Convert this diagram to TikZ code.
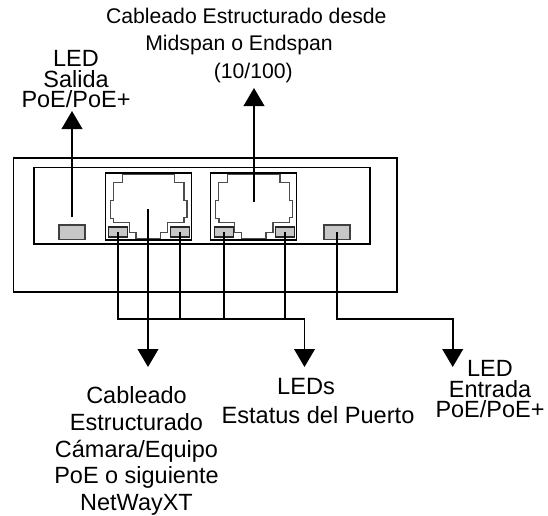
\documentclass[tikz,border=0pt]{standalone}
\usepackage{fontspec}
\setmainfont{Liberation Sans}
\usetikzlibrary{arrows.meta}

\newcommand{\tightfont}{\fontsize{17.6pt}{15.5pt}\selectfont\lineskiplimit=-20pt\relax}

\begin{document}
\begin{tikzpicture}[
    x=0.75pt, y=-0.75pt,
    panel/.style={rectangle, draw, line width=1.3pt, inner sep=0pt},
    bigled/.style={rectangle, draw=black!75, fill=black!22, line width=0.9pt, inner sep=0pt, minimum width=19.5pt, minimum height=10.9pt},
    smallled/.style={rectangle, draw=black!85, fill=black!22, line width=0.9pt, inner sep=0pt, minimum width=13.9pt, minimum height=7.5pt},
    portframe/.style={rectangle, draw, line width=0.9pt, inner sep=0pt, minimum width=64.5pt, minimum height=50.25pt},
    jack/.style={draw=black!70, line width=0.9pt},
    wire/.style={line width=1.35pt},
    arrow/.style={-{Triangle[width=15.5pt,length=13.5pt]}, line width=1.35pt},
    topline/.style={inner sep=0pt, anchor=base, font=\fontsize{15.9pt}{20pt}\selectfont},
    busline/.style={inner sep=0pt, anchor=base, font=\fontsize{17.7pt}{20pt}\selectfont},
    stack/.style={align=center, inner sep=0pt, anchor=north, font=\fontsize{17.6pt}{20pt}\selectfont},
    tight/.style={font=\tightfont}
]
    \useasboundingbox (0,0) rectangle (548,515);

    % Chassis
    \node[panel, minimum width=287.6pt, minimum height=100.5pt] (chassis) at (205.25,225) {};
    \node[panel, minimum width=251.8pt, minimum height=57.4pt] (faceplate) at (201.85,205.75) {};

    % RJ45 ports
    \node[portframe] (portcam) at (148.5,206.5) {};
    \node[portframe] (portmid) at (253.85,206.5) {};
    \foreach \portx in {0,105.2} {
        \draw[jack, shift={(\portx,0)}] (122.3,174.3) -- (174.7,174.3) -- (174.7,182.3) -- (184,182.3)
            -- (184,200.7) -- (187,200.7) -- (187,217.3) -- (184,217.3) -- (184,222.7) -- (167.7,222.7)
            -- (167.7,232.7) -- (160.7,232.7) -- (160.7,238.3) -- (136,238.3) -- (136,232.7) -- (129.3,232.7)
            -- (129.3,222.7) -- (113.7,222.7) -- (113.7,218.3) -- (110.3,218.3) -- (110.3,200.7)
            -- (113.3,200.7) -- (113.3,182.3) -- (122.3,182.3) -- cycle;
    }

    % LEDs
    \node[bigled] (ledout) at (72,232.25) {};
    \node[bigled] (ledin) at (337,232.25) {};
    \node[smallled] (ledcamA) at (118,232) {};
    \node[smallled] (ledcamB) at (180,232) {};
    \node[smallled] (ledmidA) at (224,232) {};
    \node[smallled] (ledmidB) at (285,232) {};

    % Wire ends
    \coordinate (outstart) at (72,217);
    \coordinate (outtip) at (72,111);
    \coordinate (midstart) at (254,202);
    \coordinate (midtip) at (254,88);
    \coordinate (camstart) at (148,209);
    \coordinate (camtip) at (148,367);
    \coordinate (bustip) at (304.5,367);
    \coordinate (intip) at (452.7,367);
    \coordinate (buscorner) at (304.5,319);
    \coordinate (incorner) at (452.7,319);

    % Arrows
    \draw[arrow] (outstart) -- (outtip);
    \draw[arrow] (midstart) -- (midtip);
    \draw[arrow] (camstart) -- (camtip);
    \draw[arrow] (buscorner) -- (bustip);
    \draw[arrow] (ledin.center) |- (incorner) -- (intip);

    % Status bus
    \draw[wire] (ledcamA.center) |- (buscorner);
    \draw[wire] (ledcamB.center) -- (ledcamB.center |- buscorner);
    \draw[wire] (ledmidA.center) -- (ledmidA.center |- buscorner);
    \draw[wire] (ledmidB.center) -- (ledmidB.center |- buscorner);

    % Labels
    \node[topline] (toptextA) at (246.3,23.3) {Cableado Estructurado desde};
    \node[topline] (toptextB) at (239,50) {Midspan o Endspan};
    \node[topline] (toptextC) at (253.3,78) {(10/100)};
    \node[stack, tight] (outtext) at (76,50) {LED\\Salida\\PoE/PoE+};
    \node[stack] (camtext) at (136.5,386.5) {Cableado\\Estructurado\\Cámara/Equipo\\PoE o siguiente\\NetWayXT};
    \node[busline] (bustextA) at (306,394) {LEDs};
    \node[busline] (bustextB) at (318,423) {Estatus del Puerto};
    \node[stack, tight] (intext) at (490,360) {LED\\Entrada\\PoE/PoE+};
\end{tikzpicture}
\end{document}
